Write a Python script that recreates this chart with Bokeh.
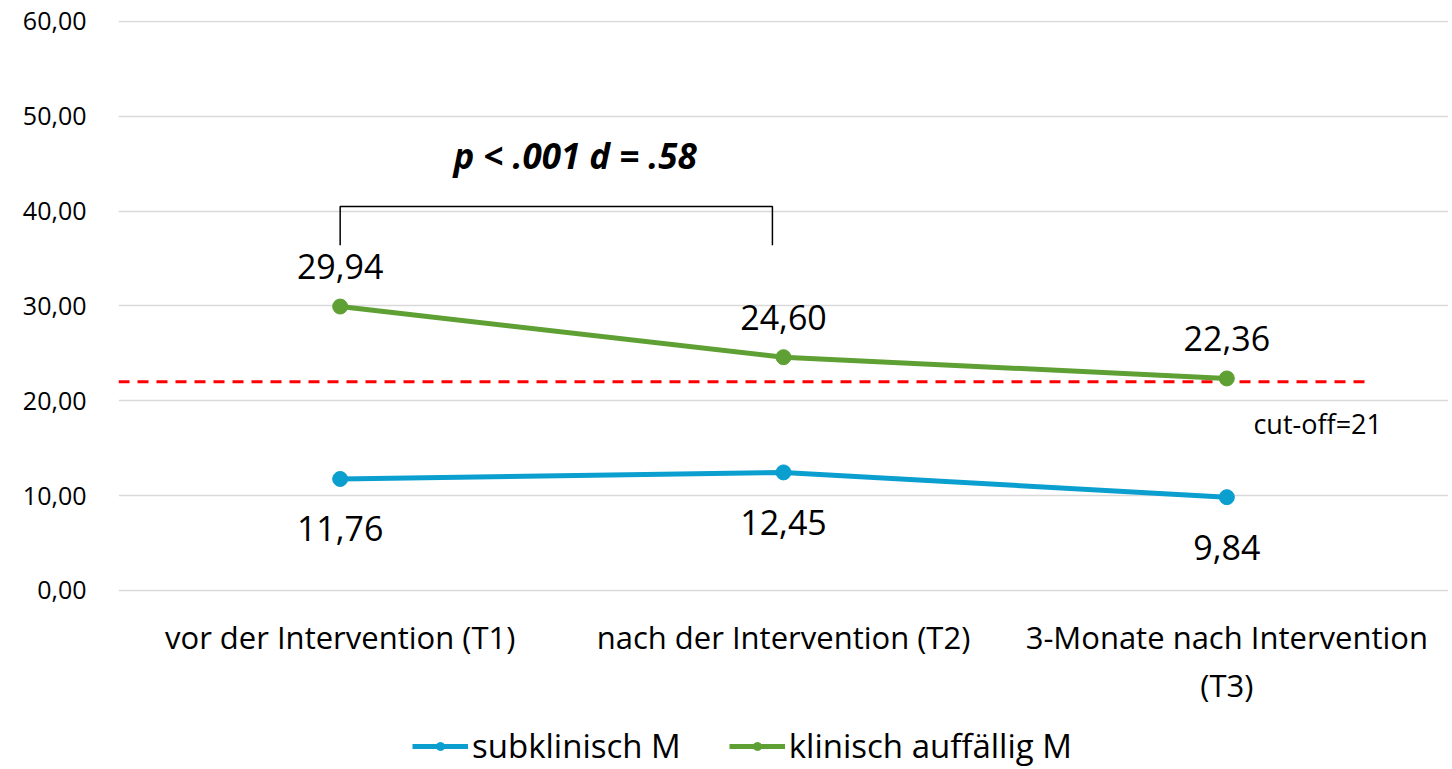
from bokeh.plotting import figure
from bokeh.models import FixedTicker, Legend, LegendItem, Range1d
from bokeh.core.properties import value
from bokeh.embed import file_html
from bokeh.resources import INLINE

categories = ["vor der Intervention (T1)", "nach der Intervention (T2)", "3-Monate nach Intervention\n(T3)"]
subklinisch = [11.76, 12.45, 9.84]
klinisch = [29.94, 24.60, 22.36]
y_ticks = [0, 10, 20, 30, 40, 50, 60]
cutoff_value = 22.0
cutoff_x = [-0.5, 2.32]
bracket_x = [0, 0, 0.975, 0.975]
bracket_y = [36.4, 40.5, 40.5, 36.4]
annot_text = "p < .001 d = .58"
annot_pos = (0.53, 45.9)
cutoff_label = "cut-off=21"
cutoff_label_pos = (2.06, 17.6)

FONT = "Open Sans"
BLUE = "#0A9FCF"
GREEN = "#5FA034"

xs = list(range(len(categories)))

# the plot area extends below 0 so that category labels and legend sit in it
p = figure(frame_width=1330, frame_height=749, output_backend="svg", toolbar_location=None,
           x_range=Range1d(-0.5, 2.5), y_range=Range1d(-18.875, 60.1),
           min_border_left=118, min_border_right=0, min_border_top=20, min_border_bottom=0)
p.outline_line_color = None
p.background_fill_color = "white"
p.border_fill_color = "white"

p.xgrid.grid_line_color = None
p.ygrid.grid_line_color = "#D9D9D9"
p.ygrid.grid_line_width = 1.5
p.ygrid.ticker = FixedTicker(ticks=y_ticks)

p.yaxis.ticker = FixedTicker(ticks=y_ticks)
p.yaxis.major_label_overrides = {t: f"{t:.2f}".replace(".", ",") for t in y_ticks}
p.yaxis.axis_line_color = None
p.yaxis.major_tick_line_color = None
p.yaxis.minor_tick_line_color = None
p.yaxis.major_tick_out = 0
p.yaxis.major_tick_in = 0
p.yaxis.major_label_text_font = FONT
p.yaxis.major_label_text_font_size = "25px"
p.yaxis.major_label_text_color = "#000000"
p.yaxis.major_label_standoff = 32

p.xaxis.visible = False

# category labels below the zero line
p.text(xs, [0] * len(xs), text=categories, text_font=value(FONT), text_font_size="31px",
       text_align="center", text_baseline="top", y_offset=26, text_line_height=1.12,
       text_color="#000000")

# cut-off line
p.line(cutoff_x, [cutoff_value, cutoff_value], line_color="#FF0000", line_width=3, line_dash="11 8")

# series
l1 = p.line(xs, subklinisch, line_color=BLUE, line_width=5)
s1 = p.scatter(xs, subklinisch, size=15, fill_color=BLUE, line_color=BLUE)
l2 = p.line(xs, klinisch, line_color=GREEN, line_width=5)
s2 = p.scatter(xs, klinisch, size=15, fill_color=GREEN, line_color=GREEN)

fmt = lambda v: f"{v:.2f}".replace(".", ",")
p.text(xs, klinisch, text=[fmt(v) for v in klinisch], text_font=value(FONT), text_font_size="34px",
       text_align="center", text_baseline="middle", y_offset=-40, text_color="#000000")
p.text(xs, subklinisch, text=[fmt(v) for v in subklinisch], text_font=value(FONT), text_font_size="34px",
       text_align="center", text_baseline="middle", y_offset=50, text_color="#000000")

# bracket and annotation
p.line(bracket_x, bracket_y, line_color="#000000", line_width=1.5)
p.text([annot_pos[0]], [annot_pos[1]], text=[annot_text], text_font=value(FONT), text_font_size="35px",
       text_font_style="bold italic", text_align="center", text_baseline="middle", text_color="#000000")
p.text([cutoff_label_pos[0]], [cutoff_label_pos[1]], text=[cutoff_label], text_font=value(FONT),
       text_font_size="27px", text_align="left", text_baseline="middle", text_color="#000000")

legend = Legend(items=[LegendItem(label="subklinisch M", renderers=[l1, s1]),
                       LegendItem(label="klinisch auffällig M", renderers=[l2, s2])],
                orientation="horizontal", location=(294, 1))
legend.label_text_font = FONT
legend.label_text_font_size = "33px"
legend.label_text_color = "#000000"
legend.glyph_width = 56
legend.label_standoff = 4
legend.spacing = 48
legend.border_line_color = None
legend.background_fill_alpha = 0
legend.padding = 0
legend.margin = 0
p.add_layout(legend)

open("out.html", "w").write(file_html(p, INLINE))
